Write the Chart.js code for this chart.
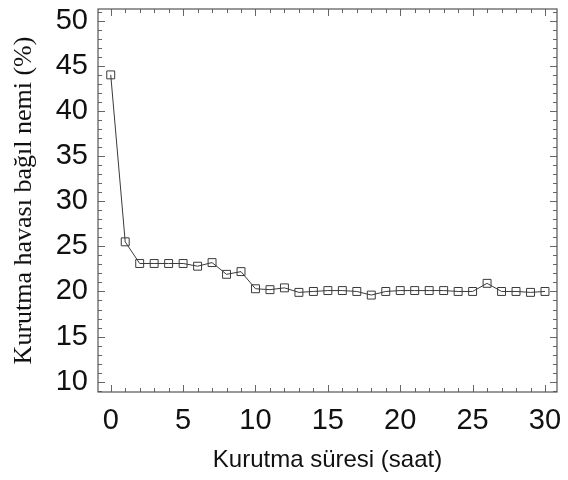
<!DOCTYPE html>
<html>
<head>
<meta charset="utf-8">
<script src="https://cdn.jsdelivr.net/npm/chart.js@4/dist/chart.umd.min.js"></script>
<style>
html,body{margin:0;padding:0;background:#fff;}
#wrap{width:568px;height:480px;}
</style>
</head>
<body>
<div id="wrap"><canvas id="c" width="568" height="480"></canvas></div>
<script>
// Drying time (hours)
const hours = [0,1,2,3,4,5,6,7,8,9,10,11,12,13,14,15,16,17,18,19,20,21,22,23,24,25,26,27,28,29,30];
// Relative humidity of drying air (%)
const humidity = [44.0,25.5,23.1,23.1,23.1,23.1,22.8,23.2,21.9,22.2,20.3,20.2,20.4,19.9,20.0,20.1,20.1,20.0,19.6,20.0,20.1,20.1,20.1,20.1,20.0,20.0,20.9,20.0,20.0,19.9,20.0];
const xMajorTicks = [0,5,10,15,20,25,30];
const yMajorTicks = [10,15,20,25,30,35,40,45,50];
const xTitle = 'Kurutma süresi (saat)';
const yTitle = 'Kurutma havası bağıl nemi (%)';

const points = hours.map((h, i) => ({x: h, y: humidity[i]}));

const frameTicks = {
  id: 'frameTicks',
  afterDraw(chart) {
    const {ctx, chartArea: a, scales: {x, y}} = chart;
    ctx.save();
    ctx.strokeStyle = '#666';
    ctx.lineWidth = 1;
    ctx.beginPath();
    for (let v = Math.ceil(x.min); v <= Math.floor(x.max); v++) {
      const px = Math.round(x.getPixelForValue(v)) + 0.5;
      const len = xMajorTicks.includes(v) ? 7 : 4;
      ctx.moveTo(px, a.bottom); ctx.lineTo(px, a.bottom - len);
      ctx.moveTo(px, a.top); ctx.lineTo(px, a.top + len);
    }
    for (let v = Math.ceil(y.min); v <= Math.floor(y.max); v++) {
      const py = Math.round(y.getPixelForValue(v)) + 0.5;
      const len = yMajorTicks.includes(v) ? 7 : 4;
      ctx.moveTo(a.left, py); ctx.lineTo(a.left + len, py);
      ctx.moveTo(a.right, py); ctx.lineTo(a.right - len, py);
    }
    ctx.stroke();
    ctx.strokeStyle = '#555';
    ctx.lineWidth = 1.2;
    ctx.strokeRect(a.left, a.top, a.right - a.left, a.bottom - a.top);
    ctx.restore();
  }
};

new Chart(document.getElementById('c'), {
  type: 'line',
  data: {
    datasets: [{
      data: points,
      borderColor: '#3a3a3a',
      borderWidth: 1,
      pointStyle: 'rect',
      pointRadius: 5.6,
      pointBorderWidth: 1,
      pointBorderColor: '#3a3a3a',
      pointBackgroundColor: 'rgba(0,0,0,0)',
      tension: 0,
      fill: false
    }]
  },
  options: {
    responsive: false,
    animation: false,
    devicePixelRatio: 1,
    layout: {padding: {top: 9, right: 11, left: 0, bottom: 0}},
    plugins: {legend: {display: false}, tooltip: {enabled: false}},
    scales: {
      x: {
        type: 'linear',
        min: -0.88,
        max: 30.83,
        border: {display: false},
        grid: {display: false, drawTicks: false},
        ticks: {
          stepSize: 1,
          autoSkip: false,
          maxRotation: 0,
          includeBounds: false,
          padding: 12,
          color: '#111',
          font: {family: '"Liberation Sans", Arial, sans-serif', size: 29},
          callback: (v) => xMajorTicks.includes(v) ? String(v) : ''
        },
        title: {
          display: true,
          text: xTitle,
          color: '#111',
          font: {family: '"Liberation Sans", Arial, sans-serif', size: 24},
          padding: {top: 0, bottom: 5}
        },
        afterFit(s) { s.height = 88; s.paddingLeft = 0; s.paddingRight = 0; s.paddingTop = 0; s.paddingBottom = 0; }
      },
      y: {
        min: 8.86,
        max: 51.3,
        border: {display: false},
        grid: {display: false, drawTicks: false},
        ticks: {
          stepSize: 1,
          autoSkip: false,
          includeBounds: false,
          padding: 10,
          color: '#111',
          font: {family: '"Liberation Sans", Arial, sans-serif', size: 29},
          callback: (v) => yMajorTicks.includes(v) ? String(v) : ''
        },
        title: {
          display: true,
          text: yTitle,
          color: '#111',
          font: {family: '"Liberation Serif", "Times New Roman", serif', size: 26},
          padding: {top: 9, bottom: 0}
        },
        afterFit(s) { s.width = 98; s.paddingLeft = 0; s.paddingRight = 0; s.paddingTop = 0; s.paddingBottom = 0; }
      }
    }
  },
  plugins: [frameTicks]
});
</script>
</body>
</html>
